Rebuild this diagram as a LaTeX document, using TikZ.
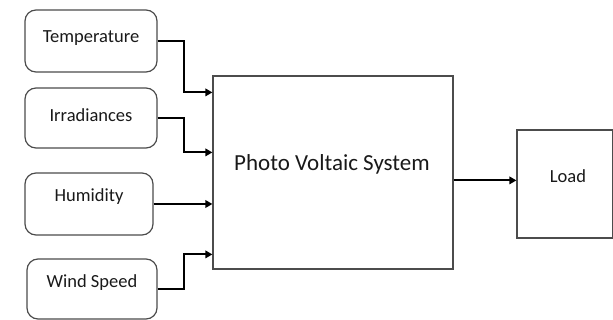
\documentclass[tikz,border=0pt]{standalone}
\usepackage{fontspec}
\setmainfont{Carlito}
\usetikzlibrary{arrows.meta,calc}
\tikzset{
  inbox/.style={draw=black!70, line width=1.2pt, rounded corners=11pt, inner sep=0pt},
  sqbox/.style={draw=black!70, line width=1.2pt, inner sep=0pt},
  lbl/.style={font=\fontsize{18.5}{21}\selectfont, text=black!90, inner sep=0pt},
  biglbl/.style={font=\fontsize{23}{27}\selectfont, text=black!90, inner sep=0pt},
  arr/.style={line width=1.8pt, -{Triangle[length=7pt,width=7.5pt]}}
}
\begin{document}
\begin{tikzpicture}[x=1pt,y=-1pt]
\useasboundingbox (0,0) rectangle (613,320);
% input boxes
\node[inbox, minimum width=132pt, minimum height=62pt] (temp) at (91,41) {};
\node[lbl] (tempt) at (91,38) {Temperature};
\node[inbox, minimum width=132pt, minimum height=60pt] (irr) at (91,118) {};
\node[lbl] (irrt) at (91,115) {Irradiances};
\node[inbox, minimum width=128pt, minimum height=62pt] (hum) at (89,204) {};
\node[lbl] (humt) at (89,197) {Humidity};
\node[inbox, minimum width=130pt, minimum height=60pt] (wind) at (92,289) {};
\node[lbl] (windt) at (92,283) {Wind Speed};
% PV system
\node[sqbox, minimum width=240pt, minimum height=193pt] (pv) at (333,172.5) {};
\node[biglbl] (pvt) at (332,164) {Photo Voltaic System};
% Load
\node[sqbox, minimum width=96pt, minimum height=108pt] (load) at (565,184) {};
\node[lbl] (loadt) at (568,176) {Load};
% connectors
\draw[arr] (temp.east) -- ++(26,0) |- ($(pv.north west)+(0,17)$);
\draw[arr] (irr.east) -- ++(26,0) |- ($(pv.north west)+(0,77)$);
\draw[arr] (hum.east) -- (hum.east -| pv.west);
\draw[arr] (wind.east) -- ++(26,0) |- ($(pv.north west)+(0,179)$);
\draw[arr] ($(pv.north east)+(0,105)$) -- ($(load.north west)+(0,51)$);
\end{tikzpicture}
\end{document}
